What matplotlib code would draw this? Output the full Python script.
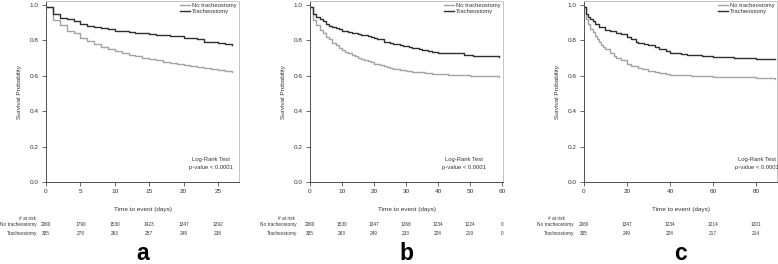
import matplotlib
matplotlib.use("Agg")
import matplotlib.pyplot as plt
import matplotlib.transforms as mtransforms

plt.rcParams['font.family'] = ['Liberation Sans', 'DejaVu Sans']

# ---------------- data ----------------
panel_letters = ["a", "b", "c"]
group_labels = ["No tracheostomy", "Tracheostomy"]

# panel a
a_times = list(range(0, 28))
a_no = [0.985, 0.913, 0.885, 0.851, 0.838, 0.814, 0.797, 0.778, 0.763, 0.748, 0.738, 0.729,
        0.719, 0.710, 0.702, 0.695, 0.687, 0.678, 0.672, 0.667, 0.659, 0.653, 0.648, 0.642,
        0.637, 0.631, 0.627, 0.623]
a_tr = [0.985, 0.945, 0.925, 0.918, 0.910, 0.889, 0.881, 0.876, 0.866, 0.861, 0.853, 0.849,
        0.846, 0.843, 0.840, 0.836, 0.832, 0.829, 0.824, 0.821, 0.815, 0.810, 0.804, 0.791,
        0.787, 0.783, 0.776, 0.770]
a_ticks = [0, 5, 10, 15, 20, 25]
a_risk_no = [2060, 1790, 1530, 1423, 1347, 1292]
a_risk_tr = [305, 278, 263, 257, 249, 238]

# panel b
b_times_no = [0, 1, 2, 3, 4, 5, 6, 7, 8, 9, 10, 11, 12, 13, 14, 15, 16, 17, 18, 19, 20, 21, 22,
              23, 24, 25, 26, 27, 28, 29, 30, 32, 34, 36, 38, 40, 43, 46, 50, 55, 59]
b_no = [0.985, 0.913, 0.885, 0.857, 0.842, 0.819, 0.804, 0.785, 0.770, 0.757, 0.744, 0.735,
        0.725, 0.717, 0.709, 0.702, 0.695, 0.688, 0.682, 0.675, 0.668, 0.663, 0.658, 0.653,
        0.648, 0.644, 0.640, 0.636, 0.633, 0.630, 0.627, 0.623, 0.619, 0.615, 0.611, 0.608,
        0.605, 0.602, 0.599, 0.596, 0.593]
b_times_tr = [0, 1, 2, 3, 4, 5, 6, 7, 8, 9, 10, 11, 12, 13, 14, 15, 16, 17, 18, 19, 20, 21, 22,
              23, 24, 25, 26, 28, 29, 31, 32, 34, 35, 37, 38, 40, 48, 51, 53, 56, 59]
b_tr = [0.985, 0.950, 0.932, 0.919, 0.910, 0.889, 0.881, 0.876, 0.866, 0.861, 0.853, 0.849,
        0.846, 0.843, 0.840, 0.836, 0.832, 0.829, 0.824, 0.820, 0.815, 0.808, 0.804, 0.791,
        0.787, 0.783, 0.778, 0.773, 0.767, 0.762, 0.757, 0.750, 0.744, 0.738, 0.734, 0.725,
        0.716, 0.713, 0.710, 0.708, 0.706]
b_ticks = [0, 10, 20, 30, 40, 50, 60]
b_risk_no = [2060, 1530, 1347, 1268, 1234, 1224, 0]
b_risk_tr = [305, 263, 249, 233, 224, 219, 0]

# panel c
c_times_no = [0, 1, 2, 3, 4, 5, 6, 7, 8, 9, 10, 12, 14, 15, 17, 20, 22, 25, 27, 30, 33, 35,
              38, 40, 45, 50, 60, 70, 80, 89]
c_no = [0.985, 0.917, 0.890, 0.862, 0.845, 0.824, 0.806, 0.790, 0.775, 0.760, 0.748, 0.728,
        0.710, 0.701, 0.688, 0.667, 0.657, 0.642, 0.636, 0.627, 0.621, 0.617, 0.611, 0.606,
        0.601, 0.598, 0.595, 0.591, 0.585, 0.583]
c_times_tr = [0, 1, 2, 3, 4, 5, 7, 10, 12, 15, 17, 20, 22, 24, 25, 28, 30, 33, 35, 38, 40, 45,
              48, 50, 55, 60, 65, 70, 75, 80, 89]
c_tr = [0.985, 0.950, 0.932, 0.919, 0.910, 0.889, 0.876, 0.858, 0.850, 0.843, 0.835, 0.820,
        0.808, 0.792, 0.786, 0.776, 0.771, 0.760, 0.752, 0.740, 0.729, 0.724, 0.716, 0.714,
        0.710, 0.706, 0.703, 0.700, 0.697, 0.695, 0.693]
c_ticks = [0, 20, 40, 60, 80]
c_risk_no = [2060, 1347, 1234, 1214, 1201]
c_risk_tr = [305, 249, 224, 217, 214]

y_ticks = [0.0, 0.2, 0.4, 0.6, 0.8, 1.0]

panels = [
    dict(tn=a_times, no=a_no, tt=a_times, tr=a_tr, ticks=a_ticks, rno=a_risk_no, rtr=a_risk_tr,
         xmax=28.05, left=46, lab_x=37, risk_hdr_x=36, lr_x=0.855, ylab_x=19),
    dict(tn=b_times_no, no=b_no, tt=b_times_tr, tr=b_tr, ticks=b_ticks, rno=b_risk_no, rtr=b_risk_tr,
         xmax=60.3, left=310, lab_x=297, risk_hdr_x=295, lr_x=0.80, ylab_x=283),
    dict(tn=c_times_no, no=c_no, tt=c_times_tr, tr=c_tr, ticks=c_ticks, rno=c_risk_no, rtr=c_risk_tr,
         xmax=89.8, left=584, lab_x=574, risk_hdr_x=565, lr_x=0.896, ylab_x=558),
]

# ---------------- figure ----------------
W, H = 778, 264
fig = plt.figure(figsize=(W / 100, H / 100), dpi=100)

LIGHT = "#a3a3a3"
DARK = "#2e2e2e"
AXC = "#505050"
TXT = "#333333"

def fx(px):
    return px / W

def fy(py):
    return 1 - py / H

for i, p in enumerate(panels):
    ax = fig.add_axes([fx(p['left']), fy(182), 193 / W, 181 / H])
    ax.plot(p['tn'], p['no'], drawstyle='steps-post', color=LIGHT, lw=1.0,
            label=group_labels[0])
    ax.plot(p['tt'], p['tr'], drawstyle='steps-post', color=DARK, lw=1.0,
            label=group_labels[1])
    ax.set_xlim(0, p['xmax'])
    ax.set_ylim(0, 1.021)
    ax.set_xticks(p['ticks'])
    ax.set_xticklabels([str(t) for t in p['ticks']])
    ax.set_yticks(y_ticks)
    ax.set_yticklabels([f"{v:.1f}" for v in y_ticks])
    ax.tick_params(axis='both', length=3.2, width=0.6, color=AXC, labelsize=4.6,
                   labelcolor=TXT, pad=2.0)
    for s in ['left', 'bottom']:
        ax.spines[s].set_color(AXC)
        ax.spines[s].set_linewidth(0.7)
    for s in ['top', 'right']:
        ax.spines[s].set_color("#c4c4c4")
        ax.spines[s].set_linewidth(0.7)

    leg = ax.legend(loc='upper right', frameon=False, fontsize=4.2, handlelength=1.8,
                    handletextpad=0.3, labelspacing=0.1, borderaxespad=0.2, borderpad=0.2)
    for t in leg.get_texts():
        t.set_color(TXT)

    fig.text(fx(p['left'] + p['lr_x'] * 193), fy(160), "Log-Rank Test", ha='center',
             va='center', fontsize=4.2, color=TXT)
    fig.text(fx(p['left'] + p['lr_x'] * 193), fy(167), "p-value < 0.0001", ha='center',
             va='center', fontsize=4.2, color=TXT)

    fig.text(fx(p['ylab_x']), fy(91.5), "Survival Probability", rotation=90, ha='center',
             va='center', fontsize=4.6, color=TXT)
    fig.text(fx(p['left'] + 96.5), fy(209), "Time to event (days)", ha='center',
             va='center', fontsize=4.6, color=TXT)

    # risk table
    trans = mtransforms.blended_transform_factory(ax.transData, fig.transFigure)
    fig.text(fx(p['risk_hdr_x']), fy(218.5), "# at risk", ha='right', va='center',
             fontsize=3.4, color=TXT)
    fig.text(fx(p['lab_x']), fy(224.5), group_labels[0], ha='right', va='center',
             fontsize=3.4, color=TXT)
    fig.text(fx(p['lab_x']), fy(233.3), group_labels[1], ha='right', va='center',
             fontsize=3.4, color=TXT)
    for t, n1, n2 in zip(p['ticks'], p['rno'], p['rtr']):
        ax.text(t, fy(224.5), str(n1), transform=trans, ha='center', va='center',
                fontsize=3.4, color=TXT, clip_on=False)
        ax.text(t, fy(233.3), str(n2), transform=trans, ha='center', va='center',
                fontsize=3.4, color=TXT, clip_on=False)

    fig.text(fx(p['left'] + 96.5), fy(260), panel_letters[i], ha='center', va='baseline',
             fontsize=16.5, fontweight='bold', color='black')

fig.savefig("out.png", dpi=100)
